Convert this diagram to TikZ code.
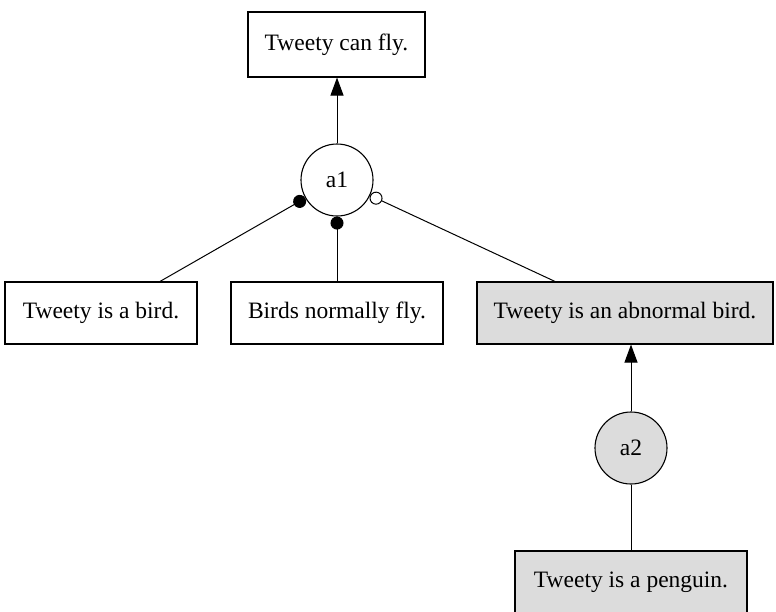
\documentclass[tikz,border=0pt]{standalone}
\usepackage{fontspec}
\setmainfont{Liberation Serif}
\usetikzlibrary{arrows.meta,calc}
\definecolor{boxgray}{RGB}{220,220,220}
\begin{document}
\begin{tikzpicture}[x=1pt,y=-1pt,
  every node/.style={font=\fontsize{23.5}{28}\selectfont, line width=1.1pt, inner sep=0pt},
  stmt/.style={draw, rectangle, minimum height=62pt},
  arg/.style={draw, circle, minimum size=72pt},
  link/.style={line width=1pt},
  support/.style={link, -{Triangle[length=18pt,width=13pt]}},
  poslink/.style={link, -{Circle[length=13pt]}},
  neglink/.style={link, -{Circle[open,length=13pt,fill=white]}}]
\useasboundingbox (0,0) rectangle (776,611);
\node[stmt, minimum width=177pt, minimum height=65pt] (fly) at (336.5,44.5) {Tweety can fly.};
\node[arg] (a1) at (337,180) {a1};
\node[stmt, minimum width=192pt] (bird) at (101,313) {Tweety is a bird.};
\node[stmt, minimum width=212pt] (norm) at (337,313) {Birds normally fly.};
\node[stmt, minimum width=296pt, fill=boxgray] (abn) at (625,313) {Tweety is an abnormal bird.};
\node[arg, fill=boxgray] (a2) at (631,448) {a2};
\node[stmt, minimum width=232pt, fill=boxgray] (peng) at (631,582) {Tweety is a penguin.};
\draw[support] (a1) -- (a1 |- fly.south);
\draw[poslink] ($(bird.north)+(59,0)$) -- (a1);
\draw[poslink] (norm.north -| a1) -- (a1);
\draw[neglink] ($(abn.north)+(-70,0)$) -- (a1);
\draw[support] (a2) -- (a2 |- abn.south);
\draw[link] (peng.north) -- (a2);
\end{tikzpicture}
\end{document}
